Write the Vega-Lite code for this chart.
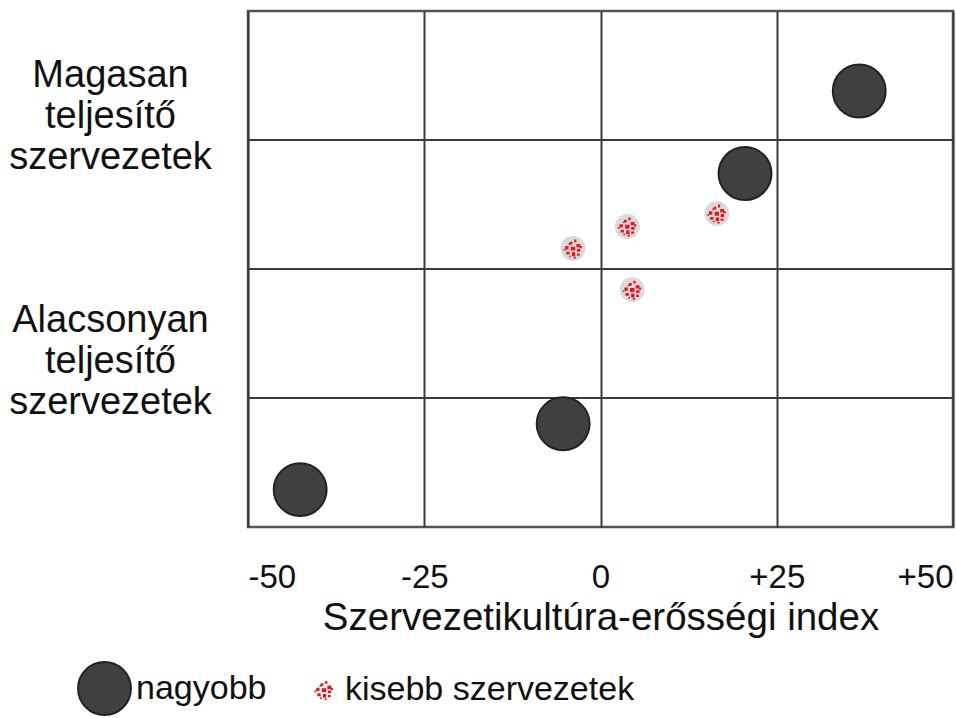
{
  "$schema": "https://vega.github.io/schema/vega-lite/v6.json",
  "autosize": "none",
  "width": 705,
  "height": 516,
  "padding": {"left": 248, "top": 11, "right": 3, "bottom": 191},
  "background": "white",
  "config": {
    "font": "Liberation Sans",
    "view": {"stroke": "#555555", "strokeWidth": 2.5},
    "axis": {"labelColor": "#111111", "titleColor": "#111111"}
  },
  "datasets": {
    "points": [
      {"x": 36.7, "y": 3.38, "tipus": "nagyobb"},
      {"x": 20.5, "y": 2.74, "tipus": "nagyobb"},
      {"x": -5.3, "y": 0.8, "tipus": "nagyobb"},
      {"x": -42.6, "y": 0.29, "tipus": "nagyobb"},
      {"x": -3.9, "y": 2.16, "tipus": "kisebb szervezetek"},
      {"x": 3.8, "y": 2.33, "tipus": "kisebb szervezetek"},
      {"x": 16.5, "y": 2.43, "tipus": "kisebb szervezetek"},
      {"x": 4.5, "y": 1.84, "tipus": "kisebb szervezetek"}
    ],
    "grid": [{"y": 1}, {"y": 2}, {"y": 3}]
  },
  "layer": [
    {
      "data": {"name": "grid"},
      "mark": {"type": "rule", "color": "#3a3a3a", "strokeWidth": 2},
      "encoding": {
        "y": {
          "field": "y",
          "type": "quantitative",
          "scale": {"domain": [0, 4], "nice": false, "zero": false},
          "axis": {
            "values": [1.6, 3.5],
            "labelExpr": "datum.value > 2 ? ['Magasan', 'teljesítő', 'szervezetek'] : ['Alacsonyan', 'teljesítő', 'szervezetek']",
            "labelFontSize": 38,
            "labelLineHeight": 41,
            "labelAlign": "center",
            "labelBaseline": "middle",
            "labelPadding": 138,
            "labelLimit": 400,
            "ticks": false,
            "domain": false,
            "grid": false,
            "title": null
          }
        }
      }
    },
    {
      "data": {"name": "points"},
      "transform": [{"filter": "datum.tipus === 'kisebb szervezetek'"}],
      "mark": {"type": "point", "filled": true, "shape": "circle", "fill": "#dadada", "opacity": 1, "size": 620, "strokeWidth": 0},
      "encoding": {
        "x": {"field": "x", "type": "quantitative"},
        "y": {"field": "y", "type": "quantitative"}
      }
    },
    {
      "data": {"name": "points"},
      "mark": {"type": "point", "filled": true, "opacity": 1, "strokeWidth": 2},
      "encoding": {
        "x": {
          "field": "x",
          "type": "quantitative",
          "scale": {"domain": [-50, 50], "nice": false, "zero": false},
          "axis": {
            "values": [-50, -25, 0, 25, 50],
            "labelExpr": "datum.value > 0 ? '+' + datum.value : '' + datum.value",
            "labelFlush": true,
            "labelFontSize": 33,
            "labelPadding": 34,
            "ticks": false,
            "domain": false,
            "grid": true,
            "gridColor": "#3a3a3a",
            "gridWidth": 2,
            "gridOpacity": 1,
            "title": "Szervezetikultúra-erősségi index",
            "titleFontSize": 38.5,
            "titleFontWeight": "normal",
            "titlePadding": 5
          }
        },
        "y": {"field": "y", "type": "quantitative"},
        "fill": {
          "field": "tipus",
          "type": "nominal",
          "scale": {"domain": ["nagyobb", "kisebb szervezetek"], "range": ["#404040", "#e8141c"]},
          "legend": {
            "orient": "none",
            "direction": "horizontal",
            "legendX": -171,
            "legendY": 650,
            "title": null,
            "labelFontSize": 34,
            "labelColor": "#111111",
            "labelOffset": 4,
            "labelLimit": 0,
            "columnPadding": 40,
            "symbolStrokeWidth": 2
          }
        },
        "size": {
          "field": "tipus",
          "type": "nominal",
          "scale": {"domain": ["nagyobb", "kisebb szervezetek"], "range": [2800, 500]}
        },
        "shape": {
          "field": "tipus",
          "type": "nominal",
          "scale": {
            "domain": ["nagyobb", "kisebb szervezetek"],
            "range": ["circle", "M-0.7,-0.2h0.3v0.3h-0.3z M-0.3,-0.6h0.25v0.25h-0.25z M0.1,-0.8h0.2v0.25h-0.2z M0.3,-0.4h0.35v0.3h-0.35z M-0.2,-0.15h0.4v0.35h-0.4z M0.35,0.05h0.3v0.25h-0.3z M-0.6,0.3h0.3v0.25h-0.3z M-0.1,0.35h0.3v0.35h-0.3z M0.35,0.45h0.25v0.2h-0.25z M-0.4,-0.45h0.15v0.15h-0.15z M0.6,-0.2h0.2v0.2h-0.2z M-0.85,0.05h0.15v0.15h-0.15z M0.05,0.75h0.2v0.15h-0.2z M-0.35,0.65h0.15v0.15h-0.15z"]
          }
        },
        "stroke": {
          "field": "tipus",
          "type": "nominal",
          "scale": {"domain": ["nagyobb", "kisebb szervezetek"], "range": ["#222222", "rgba(0,0,0,0)"]}
        }
      }
    }
  ]
}
